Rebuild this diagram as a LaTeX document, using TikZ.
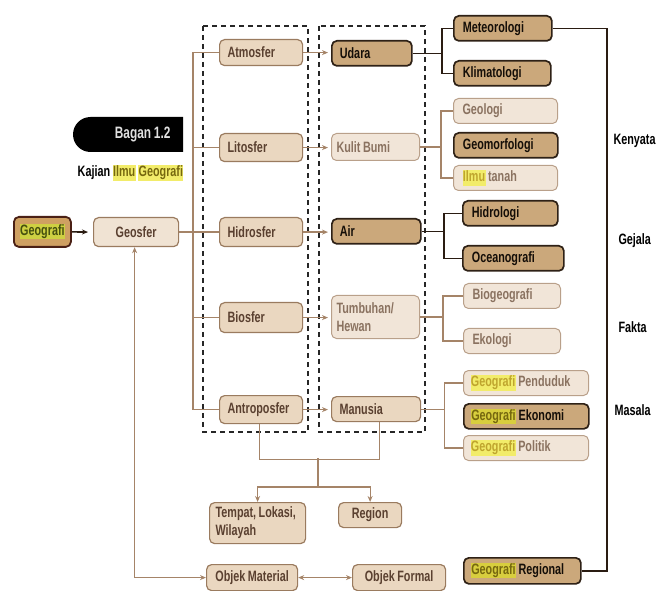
\documentclass[tikz,border=0pt]{standalone}
\usepackage{fontspec}
\setmainfont{Liberation Sans}[FakeStretch=0.72, WordSpace=0.85]
\usetikzlibrary{arrows.meta}
\definecolor{ltF}{HTML}{F1E5D8}
\definecolor{ltD}{HTML}{B9A08A}
\definecolor{ltT}{HTML}{8A7260}
\definecolor{mdF}{HTML}{EAD7C0}
\definecolor{mdD}{HTML}{9A7B5F}
\definecolor{mdT}{HTML}{5A4030}
\definecolor{dkF}{HTML}{CBA87B}
\definecolor{dkD}{HTML}{2E2116}
\definecolor{dkT}{HTML}{140E08}
\definecolor{gsF}{HTML}{CFA062}
\definecolor{gsD}{HTML}{4A2015}
\definecolor{lnL}{HTML}{A58468}
\definecolor{lnD}{HTML}{2A1C12}
\definecolor{hlY}{HTML}{F2EC6A}
\definecolor{hlT}{HTML}{BFA52E}
\definecolor{hlYd}{HTML}{D8CE3E}
\definecolor{hlTd}{HTML}{76680F}
\definecolor{hlYg}{HTML}{CED042}
\definecolor{hlTg}{HTML}{46500F}
\newcommand{\hlg}[1]{{\setlength{\fboxsep}{0.4pt}\colorbox{hlY}{\rule[-3.5pt]{0pt}{14pt}\textcolor{hlT}{#1}}}}
\newcommand{\hld}[1]{{\setlength{\fboxsep}{0.4pt}\colorbox{hlYd}{\rule[-3.5pt]{0pt}{14pt}\textcolor{hlTd}{#1}}}}
\newcommand{\hlk}[1]{{\setlength{\fboxsep}{0.4pt}\colorbox{hlY}{\rule[-3.5pt]{0pt}{14pt}\textcolor{hlTd}{#1}}}}
\newcommand{\hlgg}[1]{{\setlength{\fboxsep}{0.4pt}\colorbox{hlYg}{\rule[-3.5pt]{0pt}{14pt}\textcolor{hlTg}{#1}}}}
\tikzset{
  every node/.style={font=\bfseries\fontsize{15}{18}\selectfont},
  bx/.style={rectangle, rounded corners=5pt, inner xsep=8pt, inner ysep=1pt,
     align=flush left, anchor=north west},
  ltbox/.style={bx, fill=ltF, draw=ltD, line width=1pt, text=ltT},
  mdbox/.style={bx, fill=mdF, draw=mdD, line width=1.2pt, text=mdT},
  dkbox/.style={bx, fill=dkF, draw=dkD, line width=1.7pt, text=dkT},
  gsbox/.style={bx, fill=gsF, draw=gsD, line width=1.8pt, inner xsep=5pt, align=flush center},
  ltl/.style={draw=lnL, line width=1.2pt},
  dkl/.style={draw=lnD, line width=1.6pt},
  arr/.style={-{Stealth[length=6pt,width=5pt]}},
  darr/.style={{Stealth[length=6pt,width=5pt]}-{Stealth[length=6pt,width=5pt]}},
  dsh/.style={draw=black!85, line width=1.6pt, dash pattern=on 5pt off 4pt},
  lab/.style={anchor=west, text=black}
}
\begin{document}
\begin{tikzpicture}[x=1pt,y=-1pt]
\useasboundingbox (0,0) rectangle (657,591);

% dashed groups
\draw[dsh] (203,26) rectangle (308,432);
\draw[dsh] (319,26) rectangle (425,432);

% title
\fill[black] (183,117) -- (90.5,117) arc (270:90:17.5) -- (183,152) -- cycle;
\node[anchor=east, text=black!12, font=\bfseries\fontsize{16.5}{18}\selectfont] (bagan) at (174,134.5) {Bagan 1.2};
\node[anchor=east, text=black] (kajian) at (187,173) {Kajian \hlk{Ilmu} \hlk{Geografi}};

% nodes
\node[gsbox, text width=47pt, minimum height=30pt] (geografi) at (13,216) {\hlgg{Geografi}};
\node[mdbox, text width=69pt, minimum height=29pt, align=flush center, fill=mdF!70!white] (geosfer) at (93,217) {Geosfer};

\node[mdbox, text width=67pt, minimum height=26pt] (atmo) at (219,39) {Atmosfer};
\node[mdbox, text width=67pt, minimum height=28pt] (lito) at (219,133) {Litosfer};
\node[mdbox, text width=67pt, minimum height=29pt] (hidro) at (219,217) {Hidrosfer};
\node[mdbox, text width=67pt, minimum height=30pt] (bio) at (219,302) {Biosfer};
\node[mdbox, text width=67pt, minimum height=28pt] (antro) at (219,395) {Antroposfer};

\node[dkbox, text width=64pt, minimum height=25pt] (udara) at (331,40) {Udara};
\node[ltbox, inner xsep=5pt, text width=78pt, minimum height=27pt] (kulit) at (331,133) {Kulit Bumi};
\node[dkbox, text width=73pt, minimum height=25pt] (air) at (331,218) {Air};
\node[ltbox, text width=78pt, inner xsep=5pt, minimum height=43pt] (tumb) at (331,295) {Tumbuhan/\\Hewan};
\node[mdbox, text width=73pt, minimum height=25pt] (manusia) at (331,396) {Manusia};

\node[dkbox, text width=80pt, inner xsep=9pt, minimum height=25pt] (meteo) at (453,15) {Meteorologi};
\node[dkbox, text width=79pt, inner xsep=9pt, minimum height=25pt] (klima) at (453,60) {Klimatologi};
\node[ltbox, text width=86pt, inner xsep=9pt, minimum height=25pt] (geologi) at (453,98) {Geologi};
\node[dkbox, text width=86pt, inner xsep=9pt, minimum height=25pt] (geomorf) at (453,132) {Geomorfologi};
\node[ltbox, text width=86pt, inner xsep=9pt, minimum height=25pt] (ilmutanah) at (453,165) {\hlg{Ilmu} tanah};
\node[dkbox, text width=77pt, inner xsep=9pt, minimum height=25pt] (hidrologi) at (462,200) {Hidrologi};
\node[dkbox, text width=83pt, inner xsep=9pt, minimum height=25pt] (oceano) at (462,245) {Oceanografi};
\node[ltbox, text width=79pt, inner xsep=9pt, minimum height=25pt] (biogeo) at (463,283) {Biogeografi};
\node[ltbox, text width=79pt, inner xsep=9pt, minimum height=25pt] (ekologi) at (463,328) {Ekologi};
\node[ltbox, text width=111pt, inner xsep=7pt, minimum height=25pt] (penduduk) at (463,370) {\hlg{Geografi} Penduduk};
\node[dkbox, text width=111pt, inner xsep=7pt, minimum height=25pt] (ekonomi) at (463,403) {\hld{Geografi} Ekonomi};
\node[ltbox, text width=111pt, inner xsep=7pt, minimum height=25pt] (politik) at (463,435) {\hlg{Geografi} Politik};
\node[dkbox, text width=103pt, inner xsep=7pt, minimum height=26pt] (regional) at (463,557) {\hld{Geografi} Regional};

\node[mdbox, text width=84pt, inner xsep=6pt, minimum height=41pt] (tempat) at (209,502) {Tempat, Lokasi,\\Wilayah};
\node[mdbox, text width=51pt, inner xsep=6pt, minimum height=25pt, align=flush center] (region) at (338,502) {Region};
\node[mdbox, text width=79pt, inner xsep=6pt, minimum height=26pt, align=flush center] (objmat) at (206,564) {Objek Material};
\node[mdbox, text width=81pt, inner xsep=6pt, minimum height=26pt, align=flush center] (objfor) at (352,564) {Objek Formal};

% right labels
\node[lab] (kenyata) at (610,141) {Kenyata};
\node[lab] (gejala) at (615,241) {Gejala};
\node[lab] (fakta) at (615,327) {Fakta};
\node[lab] (masala) at (611,410) {Masala};

% connectors
\draw[dkl, arr, shorten >=5pt] (geografi.east) -- (geosfer.west);
\coordinate (tk) at (193,0);
\draw[ltl] (geosfer.east) -- (hidro.west);
\draw[ltl] (atmo.west) -- (atmo.west -| tk) -- (antro.west -| tk) -- (antro.west);
\draw[ltl] (lito.west -| tk) -- (lito.west);
\draw[ltl] (bio.west -| tk) -- (bio.west);

\draw[ltl, arr, shorten >=3pt] (atmo.east) -- (atmo.east -| udara.west);
\draw[ltl, arr, shorten >=3pt] (lito.east) -- (lito.east -| kulit.west);
\draw[ltl, arr, shorten >=3pt] (hidro.east) -- (hidro.east -| air.west);
\draw[ltl, arr, shorten >=3pt] (bio.east) -- (bio.east -| tumb.west);
\draw[ltl, arr, shorten >=3pt] (antro.east) -- (antro.east -| manusia.west);

\draw[dkl] (udara.east) -- ++(29,0) coordinate (j1);
\draw[dkl] (meteo.west) -| (j1) |- (klima.west);
\draw[ltl] (kulit.east) -- ++(21,0) coordinate (j2);
\draw[ltl] (geologi.west) -| (j2) |- (ilmutanah.west);
\draw[dkl] (air.east) -- ++(22,0) coordinate (j3);
\draw[dkl] (hidrologi.west) -| (j3) |- (oceano.west);
\draw[ltl] (tumb.east) -- ++(23,0) coordinate (j4);
\draw[ltl] (biogeo.west) -| (j4) |- (ekologi.west);
\draw[ltl] (manusia.east) -- ++(23,0) coordinate (j5);
\draw[ltl] (penduduk.west) -| (j5) |- (politik.west);

\draw[dkl] (meteo.east) -- ++(54,0) coordinate (r1) |- (regional.east);

\draw[ltl] ([xshift=-2pt]antro.south) -- ++(0,35) -| ([xshift=3pt]manusia.south);
\coordinate (m1) at (318,458);
\draw[ltl] (m1) -- ++(0,29) coordinate (m2);
\draw[ltl, arr] (m2) -| (tempat.north);
\draw[ltl, arr] (m2) -| (region.north);

\draw[ltl, darr] ([xshift=-1.5pt]geosfer.south) |- (objmat.west);
\draw[ltl, darr] (objmat.east) -- (objfor.west);
\end{tikzpicture}
\end{document}
